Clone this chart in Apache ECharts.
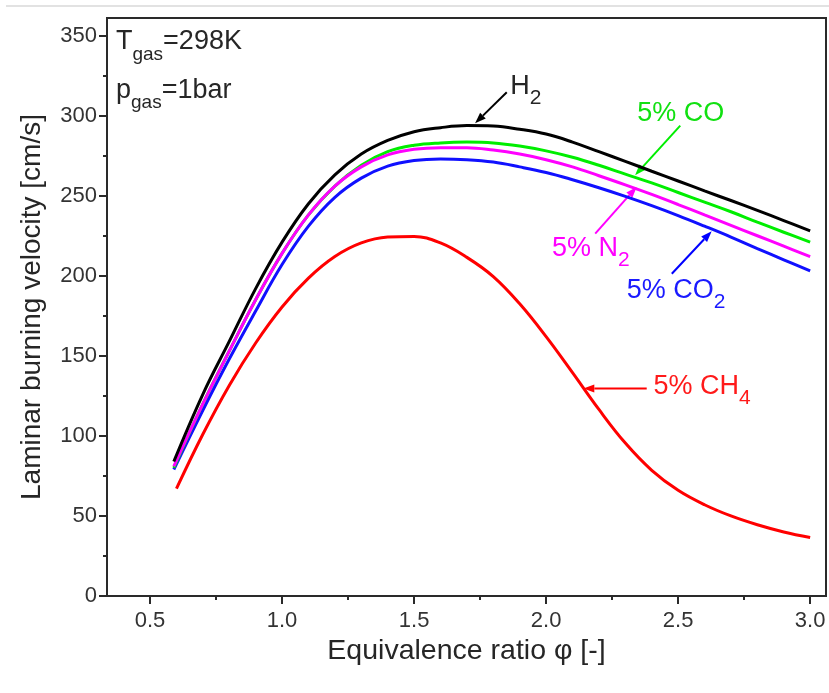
<!DOCTYPE html>
<html>
<head>
<meta charset="utf-8">
<script src="https://cdn.jsdelivr.net/npm/echarts@6/dist/echarts.min.js"></script>
<style>
html, body { margin: 0; padding: 0; background: #fff; }
#chart { width: 829px; height: 693px; }
</style>
</head>
<body>
<div id="chart"></div>
<script>
// equivalence ratio grid shared by the four hydrogen-rich mixtures
var phi = [0.59, 0.7, 0.8, 0.9, 1.0, 1.1, 1.2, 1.3, 1.4, 1.5, 1.6, 1.7, 1.8, 1.9, 2.0, 2.1, 2.2, 2.3, 2.4, 2.5, 2.6, 2.7, 2.8, 2.9, 3.0];
var vH2  = [84, 126, 159, 192, 221, 245, 263, 276, 284.5, 290, 292.5, 293.8, 293.5, 291.5, 288.5, 283.5, 277.5, 271.5, 265.3, 259.2, 253, 247, 240.8, 234.5, 228];
var vCO  = [80, 120, 153, 185, 214, 238, 256, 269, 277.5, 281.5, 283, 283.5, 283, 281, 278, 274, 269, 263.5, 258, 252, 246, 240, 233.5, 227.2, 221];
var vN2  = [81, 120, 153, 185, 214, 238, 256, 268, 275.5, 279, 280, 280, 278.5, 276, 272.5, 268, 262.5, 256.8, 250.8, 244.5, 238, 231.5, 225, 218.5, 212];
var vCO2 = [79, 116, 148, 178, 207, 231, 249, 261, 268.5, 272, 273, 272.5, 271, 268, 264.5, 260, 255, 249.6, 243.8, 237.6, 231, 224.2, 217, 210, 203];

// methane blend starts a little later
var phiCH4 = [0.6, 0.7, 0.8, 0.9, 1.0, 1.1, 1.2, 1.3, 1.4, 1.5, 1.6, 1.7, 1.8, 1.9, 2.0, 2.1, 2.2, 2.3, 2.4, 2.5, 2.6, 2.7, 2.8, 2.9, 3.0];
var vCH4   = [67, 101, 131.5, 158, 180.5, 198.5, 212, 220.5, 224.2, 224.6, 220.5, 211.5, 199.5, 182.5, 162, 139.5, 116.5, 95.5, 78.5, 66, 57, 50, 44.5, 40, 36.5];

// tick values
var xMajor = [0.5, 1.0, 1.5, 2.0, 2.5, 3.0];
var xMinor = [0.75, 1.25, 1.75, 2.25, 2.75];
var yMajor = [0, 50, 100, 150, 200, 250, 300, 350];
var yMinor = [25, 75, 125, 175, 225, 275, 325];

var FONT = 'Liberation Sans, Arial, sans-serif';
var AX = '#2a2a2a';
var TXT = '#262626';

function pairs(xs, ys) {
    return xs.map(function (x, i) { return [x, ys[i]]; });
}

function lineSeries(name, xs, ys, color) {
    return {
        name: name,
        type: 'line',
        data: pairs(xs, ys),
        smooth: 0.4,
        showSymbol: false,
        lineStyle: { color: color, width: 3 },
        xAxisIndex: 0,
        yAxisIndex: 0
    };
}

function minorAxis(pos, min, max, vals) {
    return {
        type: 'value', position: pos, min: min, max: max,
        axisLine: { show: false },
        axisTick: { show: true, length: 4, customValues: vals, lineStyle: { color: AX, width: 2 } },
        axisLabel: { show: false },
        splitLine: { show: false }
    };
}

var chart = echarts.init(document.getElementById('chart'));
var xMin = 0.337, xMax = 3.06, yMin = 0, yMax = 361;

var option = {
    animation: false,
    grid: {
        left: 107, right: 3, top: 18, bottom: 97,
        show: true, borderColor: AX, borderWidth: 2
    },
    xAxis: [
        {
            type: 'value', position: 'bottom', min: xMin, max: xMax,
            axisLine: { show: true, onZero: false, lineStyle: { color: AX, width: 2 } },
            axisTick: { show: true, length: 8, customValues: xMajor, lineStyle: { color: AX, width: 2 } },
            axisLabel: {
                customValues: xMajor, color: '#333', fontSize: 22, fontFamily: FONT, margin: 14,
                formatter: function (v) { return v.toFixed(1); }
            },
            splitLine: { show: false },
            name: 'Equivalence ratio \u03c6 [-]',
            nameLocation: 'middle', nameGap: 38,
            nameTextStyle: { color: TXT, fontSize: 28.5, fontFamily: FONT }
        },
        minorAxis('bottom', xMin, xMax, xMinor)
    ],
    yAxis: [
        {
            type: 'value', position: 'left', min: yMin, max: yMax,
            axisLine: { show: true, onZero: false, lineStyle: { color: AX, width: 2 } },
            axisTick: { show: true, length: 8, customValues: yMajor, lineStyle: { color: AX, width: 2 } },
            axisLabel: { customValues: yMajor, color: '#333', fontSize: 22, fontFamily: FONT, margin: 10 },
            splitLine: { show: false },
            name: 'Laminar burning velocity [cm/s]',
            nameLocation: 'middle', nameGap: 61,
            nameTextStyle: { color: TXT, fontSize: 28, fontFamily: FONT }
        },
        minorAxis('left', yMin, yMax, yMinor)
    ],
    series: [
        lineSeries('5% CH4', phiCH4, vCH4, '#ff0000'),
        lineSeries('5% CO2', phi, vCO2, '#1010ff'),
        lineSeries('5% CO', phi, vCO, '#00ee00'),
        lineSeries('5% N2', phi, vN2, '#ff00ff'),
        lineSeries('H2', phi, vH2, '#000000')
    ]
};
chart.setOption(option);

// annotations placed in data space
function px(p) {
    return chart.convertToPixel({ xAxisIndex: 0, yAxisIndex: 0 }, p);
}

function arrow(from, to, color) {
    var a = px(from), b = px(to);
    var dx = b[0] - a[0], dy = b[1] - a[1];
    var len = Math.sqrt(dx * dx + dy * dy);
    var ux = dx / len, uy = dy / len;
    var hl = 11, hw = 4;
    var bx = b[0] - ux * hl, by = b[1] - uy * hl;
    return [
        { type: 'line', shape: { x1: a[0], y1: a[1], x2: bx, y2: by }, style: { stroke: color, lineWidth: 2 } },
        { type: 'polygon', shape: { points: [[b[0], b[1]], [bx - uy * hw, by + ux * hw], [bx + uy * hw, by - ux * hw]] }, style: { fill: color } }
    ];
}

function label(at, text, color) {
    var p = px(at);
    return {
        type: 'text', x: p[0], y: p[1],
        style: {
            text: text, fill: color, fontSize: 27, fontFamily: FONT,
            align: 'left', verticalAlign: 'middle',
            rich: {
                b: { fontSize: 27, fontFamily: FONT, fill: color, lineHeight: 44, verticalAlign: 'middle' },
                s: { fontSize: 21, fontFamily: FONT, fill: color, lineHeight: 22, verticalAlign: 'bottom' },
                g: { fontSize: 19, fontFamily: FONT, fill: color, lineHeight: 16, verticalAlign: 'bottom' }
            }
        }
    };
}

var graphics = [
    { type: 'rect', shape: { x: 6, y: 5, width: 823, height: 2 }, style: { fill: '#e2e2e2' } },
    label([0.371, 346], '{b|T}{g|gas}{b|=298K}', TXT),
    label([0.371, 316], '{b|p}{g|gas}{b|=1bar}', TXT),
    label([1.864, 318], '{b|H}{s|2}', TXT),
    label([2.345, 301.3], '{b|5% CO}', '#11e011'),
    label([2.022, 217.1], '{b|5% N}{s|2}', '#ff00ff'),
    label([2.305, 190.9], '{b|5% CO}{s|2}', '#1a1aff'),
    label([2.407, 130.6], '{b|5% CH}{s|4}', '#ff1a1a')
];
graphics = graphics
    .concat(arrow([1.851, 314.6], [1.731, 295.2], '#000000'))
    .concat(arrow([2.508, 293.8], [2.337, 262.8], '#00ee00'))
    .concat(arrow([2.186, 226.3], [2.343, 255.5], '#ff00ff'))
    .concat(arrow([2.476, 201.3], [2.627, 227.8], '#0000ff'))
    .concat(arrow([2.381, 129.6], [2.141, 129.6], '#ff0000'));

chart.setOption({ graphic: graphics });
</script>
</body>
</html>
